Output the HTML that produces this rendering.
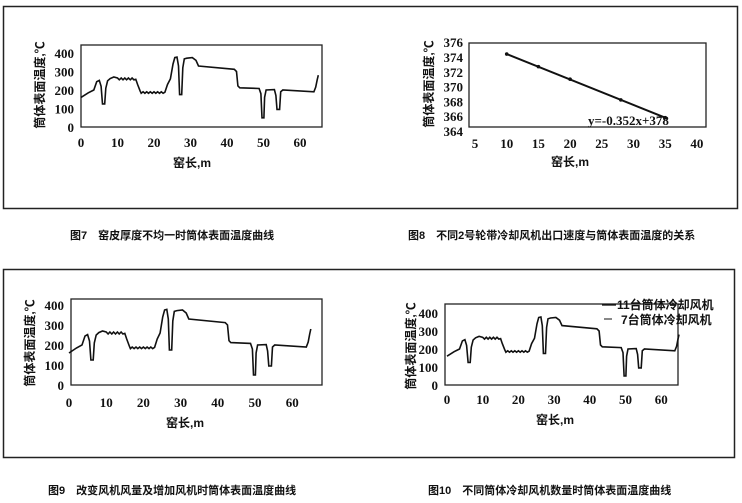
<!DOCTYPE html>
<html><head><meta charset="utf-8"><style>
body{margin:0;background:#fff;}
svg{display:block}
.t{font-family:"Liberation Serif","Noto Serif CJK SC",serif;font-weight:bold;font-size:13px;fill:#111}
.c{font-family:"Liberation Sans","Noto Sans CJK SC",sans-serif;font-weight:bold;fill:#111}
</style></head><body>
<svg id="s" width="742" height="503" viewBox="0 0 742 503" xmlns="http://www.w3.org/2000/svg">
<rect x="3.5" y="6.5" width="734" height="202" fill="none" stroke="#222" stroke-width="1.5"/>
<rect x="3.5" y="269.5" width="731" height="188" fill="none" stroke="#222" stroke-width="1.5"/>
<text class="c" x="70" y="239" font-size="11">图7　窑皮厚度不均一时筒体表面温度曲线</text>
<text class="c" x="408" y="239" font-size="11">图8　不同2号轮带冷却风机出口速度与筒体表面温度的关系</text>
<text class="c" x="48" y="494" font-size="11">图9　改变风机风量及增加风机时筒体表面温度曲线</text>
<text class="c" x="428" y="494" font-size="11">图10　不同筒体冷却风机数量时筒体表面温度曲线</text>
<g id="g"></g>
</svg>
<script>
var NS="http://www.w3.org/2000/svg",g=document.getElementById("g");
function el(n,a,t){var e=document.createElementNS(NS,n);for(var k in a)e.setAttribute(k,a[k]);if(t!=null)e.textContent=t;g.appendChild(e);return e;}
var P=[[0,160],[2,185],[3.5,200],[4.3,245],[5,252],[5.5,220],[5.9,125],[6.5,125],[6.8,210],[7.3,250],[8,262],[9,270],[10,265]];
for(var m=10;m<15;m+=0.5)P.push([m,m%1?255:265]);
P.push([15,258],[15.5,230],[16.2,195]);
for(var m=16.5;m<23;m+=0.5)P.push([m,m%1?182:190]);
P.push([23,188],[23.7,230],[24.5,260],[25.2,340],[25.7,375],[26.3,378],[26.7,330],[27,175],[27.6,175],[27.9,320],[28.3,368],[29,372],[30.5,375],[31.5,360],[32.2,330],[42,312],[42.6,300],[43,222],[43.5,212],[48.8,208],[49.3,180],[49.6,50],[50.1,50],[50.3,160],[50.7,200],[53,202],[53.4,170],[53.7,95],[54.4,95],[54.7,190],[55.3,200],[63.8,190],[64.3,215],[64.7,255],[65,280]);
function prof(x0,sx,y0,sy){return P.map(function(p){return (x0+p[0]*sx).toFixed(1)+","+(y0-p[1]*sy).toFixed(1)}).join(" ");}
function chart(bx,by,bw,bh,x0,sx,y0,sy,ylx,xlab,xly,ylabelx,ylabely){
 el("rect",{x:bx,y:by,width:bw,height:bh,fill:"none",stroke:"#222","stroke-width":1.3});
 el("polyline",{points:prof(x0,sx,y0,sy),fill:"none",stroke:"#111","stroke-width":1.6});
 for(var v=0;v<=400;v+=100)el("text",{class:"t",x:ylx,y:y0-v*sy+5,"text-anchor":"end"},v);
 for(var m=0;m<=60;m+=10)el("text",{class:"t",x:x0+m*sx,y:xly,"text-anchor":"middle"},m);
 el("text",{class:"c",x:xlab,y:xly+20,"font-size":12,"text-anchor":"middle"},"窑长,m");
 el("text",{class:"c","font-size":12,transform:"translate("+ylabelx+","+ylabely+") rotate(-90)","text-anchor":"middle"},"筒体表面温度,℃");
}
chart(81,45,241,82,81,3.65,127,0.185,74,192,147,44,85);
chart(71,299,251,86,69,3.72,385,0.2,64,185,407,34,343);
chart(445,304,233,81,447,3.57,385,0.18,438,555,404,415,346);
el("line",{x1:602,y1:305,x2:616,y2:305,stroke:"#111","stroke-width":1.3});
el("text",{class:"c",x:617,y:309,"font-size":12},"11台筒体冷却风机");
el("line",{x1:604,y1:319,x2:612,y2:319,stroke:"#111","stroke-width":1});
el("text",{class:"c",x:621,y:324,"font-size":12},"7台筒体冷却风机");
el("rect",{x:469,y:43,width:237,height:84,fill:"none",stroke:"#222","stroke-width":1.3});
var X=function(v){return 475+(v-5)*6.34},Y=function(v){return 131-(v-364)*7.4};
el("line",{x1:X(10),y1:Y(374.4),x2:X(35),y2:Y(365.8),stroke:"#111","stroke-width":2});
[[10,374.4],[15,372.7],[20,371],[28,368.2],[35,365.8]].forEach(function(p){el("circle",{cx:X(p[0]),cy:Y(p[1]),r:1.8,fill:"#111"})});
for(var v=364;v<=376;v+=2)el("text",{class:"t",x:463,y:Y(v)+5,"text-anchor":"end"},v);
for(var v=5;v<=40;v+=5)el("text",{class:"t",x:X(v),y:148,"text-anchor":"middle"},v);
el("text",{class:"c",x:570,y:166,"font-size":12,"text-anchor":"middle"},"窑长,m");
el("text",{class:"c","font-size":12,transform:"translate(433,84) rotate(-90)","text-anchor":"middle"},"筒体表面温度,℃");
el("text",{class:"t",x:588,y:125,"font-size":12},"y=-0.352x+378");
</script>
</body></html>
